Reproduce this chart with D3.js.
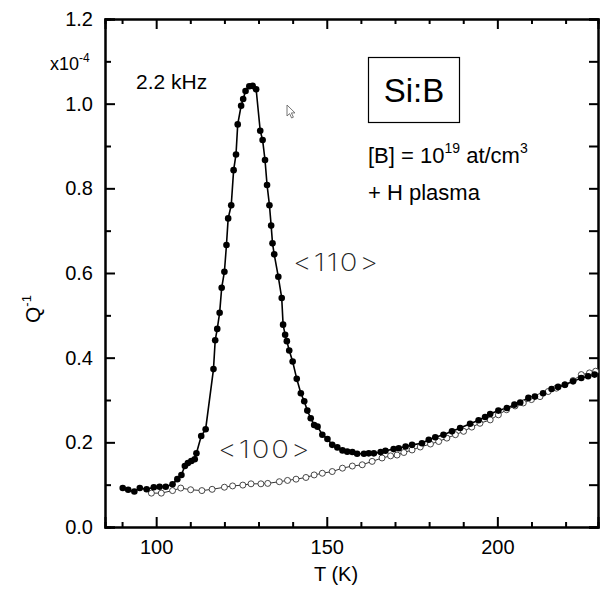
<!DOCTYPE html>
<html>
<head>
<meta charset="utf-8">
<title>Si:B internal friction</title>
<script src="https://cdn.jsdelivr.net/npm/d3@7"></script>
<style>
  body { margin: 0; background: #fff; }
  svg text { font-family: "Liberation Sans", Arial, sans-serif; fill: #000; }
  .axis path, .axis line { stroke: #000; stroke-width: 2; }
  .axis text { font-size: 20px; }
  svg text.thin { font-family: Inter, Lato, "Liberation Sans", sans-serif; font-weight: 200; fill: #222; }
</style>
</head>
<body>
<script>
// values, Q^-1 in units of 1e-4
var tempFilled = [90.2, 91.8, 93.6, 95.2, 97.2, 99.3, 101.0, 102.8, 104.8, 106.2,
  107.4, 108.4, 109.3, 110.3, 111.3, 111.8, 113.2, 114.5, 116.8, 117.3,
  117.9, 118.6, 119.2, 120.0, 120.6, 121.1, 122.0, 122.7, 123.4, 123.9,
  124.9, 125.5, 126.2, 127.3, 128.3, 129.3, 130.5, 131.2, 131.9, 132.5,
  133.2, 133.7, 134.1, 134.6, 135.8, 136.8, 137.2, 137.8, 138.3, 139.0,
  140.0, 141.2, 142.4, 143.4, 144.3, 145.3, 146.3, 147.3, 148.7, 150.2,
  151.6, 153.1, 154.6, 156.0, 157.5, 158.9, 160.9, 162.3, 163.8, 165.8,
  167.2, 169.6, 171.1, 173.1, 175.0, 177.9, 179.9, 181.8, 184.2, 186.7,
  189.1, 192.0, 194.5, 196.4, 197.9, 200.3, 202.8, 205.0, 206.7, 209.1,
  211.0, 213.4, 215.9, 217.8, 219.8, 222.2, 224.6, 226.6, 228.5];
var qFilled = [0.092, 0.088, 0.084, 0.092, 0.089, 0.094, 0.095, 0.095, 0.101, 0.113,
  0.123, 0.144, 0.151, 0.156, 0.160, 0.174, 0.215, 0.231, 0.373, 0.441,
  0.468, 0.506, 0.565, 0.603, 0.666, 0.729, 0.760, 0.843, 0.880, 0.951,
  0.995, 1.011, 1.030, 1.041, 1.042, 1.034, 0.936, 0.914, 0.867, 0.808,
  0.760, 0.712, 0.670, 0.644, 0.591, 0.541, 0.478, 0.454, 0.439, 0.417,
  0.391, 0.350, 0.316, 0.297, 0.275, 0.257, 0.241, 0.237, 0.218, 0.208,
  0.194, 0.188, 0.181, 0.178, 0.177, 0.173, 0.173, 0.174, 0.174, 0.177,
  0.180, 0.184, 0.186, 0.190, 0.194, 0.198, 0.206, 0.212, 0.218, 0.226,
  0.234, 0.244, 0.252, 0.260, 0.267, 0.275, 0.281, 0.289, 0.294, 0.305,
  0.308, 0.316, 0.326, 0.331, 0.336, 0.344, 0.352, 0.356, 0.360];

var tempOpen = [98.6, 101.5, 104.8, 107.2, 110.1, 113.4, 116.4, 120.0, 122.4, 125.4,
  127.8, 130.7, 132.7, 136.1, 138.5, 141.0, 143.9, 146.3, 148.7, 151.6,
  154.6, 157.5, 160.4, 163.3, 166.2, 168.7, 170.6, 172.6, 175.0, 177.4,
  180.4, 182.8, 185.2, 187.7, 190.1, 192.5, 194.9, 197.9, 200.3, 202.7,
  205.2, 207.6, 210.0, 212.5, 214.9, 217.3, 219.8, 222.2, 224.6, 227.0, 228.8];
var qOpen = [0.080, 0.080, 0.086, 0.092, 0.088, 0.086, 0.089, 0.094, 0.097, 0.099,
  0.102, 0.102, 0.103, 0.107, 0.110, 0.113, 0.117, 0.123, 0.127, 0.131,
  0.139, 0.144, 0.147, 0.155, 0.163, 0.168, 0.170, 0.176, 0.182, 0.189,
  0.196, 0.202, 0.210, 0.218, 0.226, 0.236, 0.245, 0.253, 0.265, 0.277,
  0.286, 0.293, 0.301, 0.308, 0.320, 0.328, 0.336, 0.346, 0.360, 0.364, 0.368];

var xMajor = [100, 150, 200];
var xMinor = [90, 110, 120, 130, 140, 160, 170, 180, 190, 210, 220];
var yMajor = [0, 0.2, 0.4, 0.6, 0.8, 1.0, 1.2];
var yMinor = [0.1, 0.3, 0.5, 0.7, 0.9, 1.1];

var width = 602, height = 595;
var plotLeft = 105, plotRight = 598, plotTop = 19, plotBottom = 527;

var svg = d3.select("body").append("svg")
  .attr("width", width)
  .attr("height", height);

var x = d3.scaleLinear().domain([85, 229.5]).range([plotLeft, plotRight]);
var y = d3.scaleLinear().domain([0, 1.2]).range([plotBottom, plotTop]);

// axes, ticks pointing inwards on all four sides
function addAxis(axis, tx, ty) {
  var g = svg.append("g").attr("class", "axis")
    .attr("transform", "translate(" + tx + "," + ty + ")")
    .call(axis);
  g.select(".domain").attr("stroke-width", 2);
  return g;
}
addAxis(d3.axisBottom(x).tickValues(xMajor).tickSize(-10).tickPadding(13).tickFormat(d3.format("d")), 0, plotBottom);
addAxis(d3.axisBottom(x).tickValues(xMinor).tickSize(-5).tickFormat(""), 0, plotBottom);
addAxis(d3.axisTop(x).tickValues(xMajor).tickSize(-10).tickFormat(""), 0, plotTop);
addAxis(d3.axisTop(x).tickValues(xMinor).tickSize(-5).tickFormat(""), 0, plotTop);
addAxis(d3.axisLeft(y).tickValues(yMajor).tickSize(-10).tickPadding(12).tickFormat(d3.format(".1f")), plotLeft, 0);
addAxis(d3.axisLeft(y).tickValues(yMinor).tickSize(-6).tickFormat(""), plotLeft, 0);
addAxis(d3.axisRight(y).tickValues(yMajor).tickSize(-9).tickFormat(""), plotRight, 0);
addAxis(d3.axisRight(y).tickValues(yMinor).tickSize(-9).tickFormat(""), plotRight, 0);

svg.selectAll(".axis text").attr("fill", "#000").style("font-size", "20px");

// lines + markers
var openPts = tempOpen.map(function(t, i) { return [t, qOpen[i]]; });
var filledPts = tempFilled.map(function(t, i) { return [t, qFilled[i]]; });

var line = d3.line().x(function(d) { return x(d[0]); }).y(function(d) { return y(d[1]); });

svg.append("path").datum(openPts)
  .attr("d", line).attr("fill", "none").attr("stroke", "#333").attr("stroke-width", 1);
svg.append("path").datum(filledPts)
  .attr("d", line).attr("fill", "none").attr("stroke", "#000").attr("stroke-width", 1.6);

svg.append("g").selectAll("circle").data(openPts).enter().append("circle")
  .attr("cx", function(d) { return x(d[0]); })
  .attr("cy", function(d) { return y(d[1]); })
  .attr("r", 3)
  .attr("fill", "#fff")
  .attr("stroke", "#333")
  .attr("stroke-width", 0.9);

svg.append("g").selectAll("circle").data(filledPts).enter().append("circle")
  .attr("cx", function(d) { return x(d[0]); })
  .attr("cy", function(d) { return y(d[1]); })
  .attr("r", 3.3)
  .attr("fill", "#000");

// axis titles
svg.append("text").attr("x", 314).attr("y", 581).style("font-size", "20px").text("T (K)");

var ql = svg.append("text").attr("transform", "translate(40,323) rotate(-90)").style("font-size", "21px");
ql.append("tspan").text("Q");
ql.append("tspan").attr("dy", -9).style("font-size", "13px").text("-1");

var ex = svg.append("text").attr("x", 50).attr("y", 70).style("font-size", "18px");
ex.append("tspan").text("x10");
ex.append("tspan").attr("dy", -8).style("font-size", "12px").text("-4");

// annotations
svg.append("text").attr("x", 136).attr("y", 89).style("font-size", "21px").text("2.2 kHz");

svg.append("rect").attr("x", 368.5).attr("y", 57.5).attr("width", 91).attr("height", 65)
  .attr("fill", "none").attr("stroke", "#000").attr("stroke-width", 1.2);
svg.append("text").attr("x", 414).attr("y", 102).attr("text-anchor", "middle")
  .style("font-size", "33px").text("Si:B");

var b = svg.append("text").attr("x", 368).attr("y", 163).style("font-size", "22px");
b.append("tspan").text("[B] = 10");
b.append("tspan").attr("dy", -10).style("font-size", "14px").text("19");
b.append("tspan").attr("dy", 10).text(" at/cm");
b.append("tspan").attr("dy", -10).style("font-size", "14px").text("3");
svg.append("text").attr("x", 368).attr("y", 200).style("font-size", "22px").text("+ H plasma");

// thin, stretched direction labels
svg.append("text").attr("class", "thin")
  .attr("transform", "translate(293,271) scale(1.22,1)")
  .style("font-size", "24px").style("letter-spacing", "1.5px").text("<110>");
svg.append("text").attr("class", "thin")
  .attr("transform", "translate(218,458) scale(1.22,1)")
  .style("font-size", "24px").style("letter-spacing", "1.5px").text("<100>");

// stray mouse pointer from the original screenshot
svg.append("path")
  .attr("transform", "translate(287,105)")
  .attr("d", "M0,0 L0,11 L2.6,8.6 L4.6,13 L6.4,12.2 L4.4,7.9 L8,7.9 Z")
  .attr("fill", "#fff").attr("stroke", "#666").attr("stroke-width", 0.9);
</script>
</body>
</html>
